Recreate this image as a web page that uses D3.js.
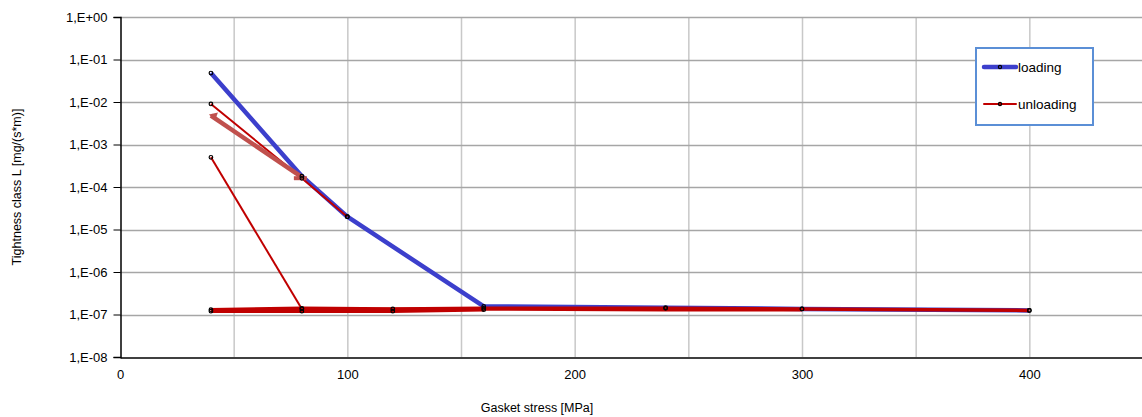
<!DOCTYPE html>
<html>
<head>
<meta charset="utf-8">
<script src="https://cdn.jsdelivr.net/npm/d3@7"></script>
<style>
	body { margin: 0; background: #fff; }
	text { font-family: "Liberation Sans", Arial, sans-serif; }
</style>
</head>
<body>
<svg width="1142" height="417"></svg>
<script>
// gasket stress [MPa] / leakage values
var loading = [[40, 4.8e-2], [80, 1.8e-4], [100, 2.0e-5], [160, 1.55e-7], [240, 1.45e-7], [300, 1.35e-7], [400, 1.25e-7]]
var unloading1 = [[100, 2.0e-5], [80, 1.6e-4], [40, 9.0e-3]]
var unloading2 = [[80, 1.35e-7], [40, 5.0e-4]]
var unloading3 = [[400, 1.25e-7], [300, 1.35e-7], [240, 1.4e-7], [160, 1.4e-7], [120, 1.35e-7], [80, 1.4e-7], [40, 1.3e-7]]
var unloading4 = [[160, 1.3e-7], [120, 1.2e-7], [80, 1.2e-7], [40, 1.2e-7]]
var unloading5 = [[300, 1.3e-7], [240, 1.3e-7], [160, 1.35e-7], [80, 1.3e-7], [40, 1.25e-7]]
var arrowLine = [[80, 1.7e-4], [40, 4.8e-3]]
var xTicks = [0, 100, 200, 300, 400]
var xGrid = [50, 100, 150, 200, 250, 300, 350, 400, 450]
var yTicks = [1, 1e-1, 1e-2, 1e-3, 1e-4, 1e-5, 1e-6, 1e-7, 1e-8]
var yTickLabels = ["1,E+00", "1,E-01", "1,E-02", "1,E-03", "1,E-04", "1,E-05", "1,E-06", "1,E-07", "1,E-08"]

var svg = d3.select("svg")
var pLeft = 120, pRight = 1143, pTop = 17, pBottom = 357

var x = d3.scaleLinear().domain([0, 450]).range([pLeft, pRight])
var y = d3.scaleLog().domain([1e-8, 1]).range([pBottom, pTop])

// grid
svg.append("g").selectAll("line").data(xGrid).enter().append("line")
	.attr("x1", d => x(d) + .5).attr("x2", d => x(d) + .5)
	.attr("y1", pTop).attr("y2", pBottom)
	.attr("stroke", "#c8c8c8").attr("stroke-width", 1.5)
svg.append("g").selectAll("line").data(yTicks.slice(0, 8)).enter().append("line")
	.attr("x1", pLeft).attr("x2", pRight)
	.attr("y1", d => Math.round(y(d)) + .5).attr("y2", d => Math.round(y(d)) + .5)
	.attr("stroke", "#a6a6a6").attr("stroke-width", 1.5)

// axes
var yAxis = d3.axisLeft(y).tickValues(yTicks).tickSize(7).tickPadding(6)
	.tickFormat((d, i) => yTickLabels[i])
var gy = svg.append("g").attr("transform", "translate(" + (pLeft + .5) + ",0)").call(yAxis)
gy.select(".domain").attr("stroke", "#000").attr("stroke-width", 1.5)
gy.selectAll(".tick line").attr("stroke", "#000")
gy.selectAll("text").attr("font-size", 13).attr("fill", "#000")
	.attr("font-family", "Liberation Sans, Arial, sans-serif")

var xAxis = d3.axisBottom(x).tickValues(xTicks).tickSize(0).tickPadding(12)
var gx = svg.append("g").attr("transform", "translate(0," + (pBottom + .5) + ")").call(xAxis)
gx.select(".domain").attr("stroke", "#000").attr("stroke-width", 1.5)
gx.selectAll("text").attr("font-size", 13).attr("fill", "#000")
	.attr("font-family", "Liberation Sans, Arial, sans-serif")

// axis titles
svg.append("text").attr("x", 537).attr("y", 412)
	.attr("text-anchor", "middle").attr("font-size", 12.5).text("Gasket stress [MPa]")
svg.append("text").attr("transform", "translate(21," + ((pTop + pBottom) / 2) + ") rotate(-90)")
	.attr("text-anchor", "middle").attr("font-size", 12.5).text("Tightness class L [mg/(s*m)]")

var line = d3.line().x(d => x(d[0])).y(d => y(d[1]))

// loading series
svg.append("path").attr("d", line(loading))
	.attr("fill", "none").attr("stroke", "#3c3fcc").attr("stroke-width", 4.5)
	.attr("stroke-linejoin", "round")

// unloading series
var reds = [unloading3, unloading4, unloading5, unloading2, unloading1]
reds.forEach(function(s, i) {
	svg.append("path").attr("d", line(s))
		.attr("fill", "none").attr("stroke", "#c00000")
		.attr("stroke-width", i < 3 ? 3.5 : 2)
})

// arrow annotation
svg.append("path").attr("d", line(arrowLine))
	.attr("fill", "none").attr("stroke", "#c0504d").attr("stroke-width", 4.5)
var a0 = [x(arrowLine[1][0]), y(arrowLine[1][1])]
svg.append("path")
	.attr("d", "M" + (a0[0] - 2) + "," + (a0[1] - 1) + "L" + (a0[0] + 7) + "," + (a0[1] - 3) + "L" + (a0[0] + 4) + "," + (a0[1] + 5) + "Z")
	.attr("fill", "#c0504d")
var a1 = [x(arrowLine[0][0]), y(arrowLine[0][1])]
svg.append("line").attr("x1", a1[0] - 8).attr("x2", a1[0] + 5).attr("y1", a1[1] + 1).attr("y2", a1[1] + 1)
	.attr("stroke", "#c0504d").attr("stroke-width", 4)

// markers
var allPts = loading.concat(unloading1, unloading2, unloading3, unloading4)
svg.append("g").selectAll("circle").data(allPts).enter().append("circle")
	.attr("cx", d => x(d[0])).attr("cy", d => y(d[1])).attr("r", 1.8)
	.attr("fill", "none").attr("stroke", "#000").attr("stroke-width", 1.2)

// legend
var lg = svg.append("g")
lg.append("rect").attr("x", 976).attr("y", 48).attr("width", 117).attr("height", 77)
	.attr("fill", "#fff").attr("stroke", "#5b8fd6").attr("stroke-width", 2)
var legendItems = [["loading", "#3c3fcc", 4.5, 67], ["unloading", "#c00000", 2, 104]]
legendItems.forEach(function(it) {
	lg.append("line").attr("x1", 984).attr("x2", 1016).attr("y1", it[3]).attr("y2", it[3])
		.attr("stroke", it[1]).attr("stroke-width", it[2]).attr("stroke-linecap", "round")
	lg.append("circle").attr("cx", 1000).attr("cy", it[3]).attr("r", 1.6)
		.attr("fill", "none").attr("stroke", "#000").attr("stroke-width", 1.2)
	lg.append("text").attr("x", 1018).attr("y", it[3] + 5).attr("font-size", 13.5).text(it[0])
})
</script>
</body>
</html>
